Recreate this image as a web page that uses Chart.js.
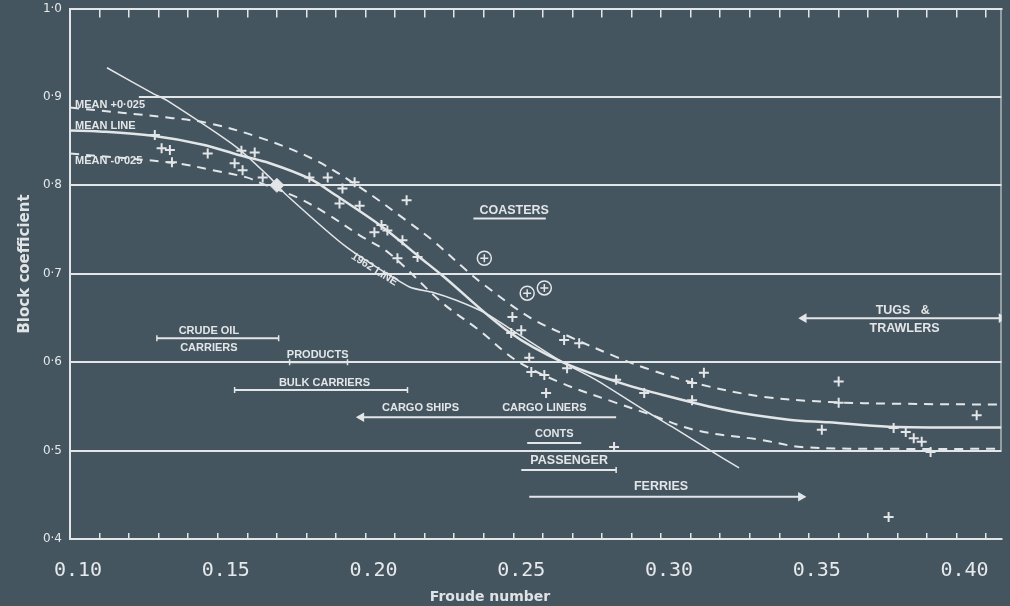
<!DOCTYPE html>
<html><head><meta charset="utf-8">
<script src="https://cdn.jsdelivr.net/npm/chart.js@4"></script>
<style>html,body{margin:0;padding:0;background:#45555f;}canvas{display:block;}</style>
</head><body>
<canvas id="c" width="1010" height="606"></canvas>
<script>
// ---------- data ----------
const xTickLabels = ['0.10','0.15','0.20','0.25','0.30','0.35','0.40'];
const yTickLabels = ['0·4','0·5','0·6','0·7','0·8','0·9','1·0'];

const meanLine = [[0.100,0.862],[0.110,0.861],[0.128,0.856],[0.145,0.846],[0.1574,0.834],[0.1676,0.825],[0.1811,0.8075],[0.1889,0.791],[0.2057,0.753],[0.2182,0.719],[0.226,0.698],[0.2486,0.634],[0.2666,0.600],[0.2848,0.578],[0.296,0.567],[0.323,0.545],[0.3432,0.535],[0.3568,0.532],[0.377,0.527],[0.4152,0.526]];
const meanPlus = [[0.100,0.888],[0.1348,0.876],[0.1473,0.870],[0.1642,0.854],[0.1821,0.830],[0.198,0.798],[0.2139,0.760],[0.2226,0.738],[0.2341,0.704],[0.2395,0.689],[0.2554,0.651],[0.2689,0.629],[0.2848,0.606],[0.2959,0.592],[0.3118,0.576],[0.3341,0.561],[0.3568,0.555],[0.38,0.553],[0.4152,0.552]];
const meanMinus = [[0.100,0.836],[0.1361,0.825],[0.1483,0.817],[0.1598,0.809],[0.1642,0.803],[0.1777,0.785],[0.1878,0.766],[0.198,0.7435],[0.2081,0.723],[0.226,0.667],[0.2385,0.636],[0.251,0.602],[0.2666,0.576],[0.2848,0.554],[0.2949,0.5425],[0.3118,0.523],[0.3341,0.512],[0.3476,0.504],[0.38,0.502],[0.4152,0.502]];
const line1962 = [[0.1125,0.933],[0.128,0.904],[0.1328,0.896],[0.1564,0.843],[0.1676,0.809],[0.1726,0.791],[0.1936,0.730],[0.2149,0.685],[0.2226,0.679],[0.2307,0.670],[0.2409,0.655],[0.2497,0.636],[0.2666,0.600],[0.278,0.580],[0.2959,0.5425],[0.3037,0.527],[0.3162,0.501],[0.3264,0.4805]];

const shipPoints = [[0.1287,0.857],[0.131,0.842],[0.1338,0.840],[0.1345,0.826],[0.1466,0.836],[0.158,0.839],[0.1625,0.837],[0.1557,0.825],[0.1584,0.817],[0.1652,0.809],[0.181,0.809],[0.1872,0.809],[0.1963,0.8035],[0.1922,0.7965],[0.1912,0.7795],[0.198,0.777],[0.2139,0.783],[0.2054,0.755],[0.2074,0.749],[0.203,0.747],[0.2125,0.738],[0.2176,0.719],[0.2108,0.7175],[0.2497,0.651],[0.2493,0.633],[0.2527,0.636],[0.2672,0.625],[0.2723,0.6215],[0.2554,0.605],[0.2561,0.589],[0.2605,0.5855],[0.2682,0.593],[0.2611,0.565],[0.2848,0.580],[0.3145,0.588],[0.3105,0.5765],[0.3105,0.557],[0.2943,0.565],[0.2841,0.504],[0.3544,0.5235],[0.3601,0.578],[0.3601,0.554],[0.3787,0.5256],[0.3828,0.521],[0.3855,0.514],[0.3882,0.510],[0.3912,0.4985],[0.4068,0.540],[0.377,0.425]];
const coasterPoints = [[0.2402,0.7175],[0.2547,0.678],[0.2605,0.684]];
const blobPoint = [[0.170,0.800]];

// range bars: [start, end, level]
const rangeBars = [[0.1294,0.1706,0.627],[0.1743,0.1939,0.600],[0.1557,0.2142,0.5685],[0.1986,0.2848,0.5377],[0.2547,0.2730,0.5087],[0.2527,0.2848,0.478],[0.2554,0.3473,0.4477],[0.3483,0.4152,0.6498],[0.2365,0.2610,0.7626]];
const rangeEnds = [['cap','cap'],['cap','cap'],['cap','cap'],['left','none'],['none','none'],['none','cap'],['none','right'],['left','right'],['none','none']];

const noteTexts = ['MEAN +0·025','MEAN LINE','MEAN -0·025','COASTERS','CRUDE OIL','CARRIERS','PRODUCTS','BULK CARRIERS','CARGO SHIPS','CARGO LINERS','CONTS','PASSENGER','FERRIES','TUGS   &','TRAWLERS','1962 LINE'];
const notePos = [[0.1017,0.891],[0.1017,0.8675],[0.1017,0.827],[0.2503,0.7717],[0.1470,0.635],[0.1470,0.616],[0.1838,0.608],[0.1861,0.5765],[0.2186,0.548],[0.2605,0.548],[0.2639,0.519],[0.2689,0.4884],[0.3000,0.459],[0.3818,0.6584],[0.3824,0.6385],[0.2030,0.7049]];

const X_MIN = 0.10, X_MAX = 0.4152, Y_MIN = 0.4, Y_MAX = 1.0;

// ---------- styling ----------
const INK = '#e3e6e8';

const datasets = [];
// partial 0.9 grid line and right frame
datasets.push({data:[{x:0.1233,y:0.9},{x:X_MAX,y:0.9}], showLine:true, borderColor:INK, borderWidth:2, pointRadius:0});
datasets.push({data:[{x:X_MAX,y:0.5},{x:X_MAX,y:Y_MAX}], showLine:true, borderColor:INK, borderWidth:2, pointRadius:0});

const toXY = a => a.map(p => ({x:p[0], y:p[1]}));
datasets.push({data:toXY(meanLine), showLine:true, borderColor:INK, borderWidth:2.5, pointRadius:0, tension:0.35});
datasets.push({data:toXY(meanPlus), showLine:true, borderColor:INK, borderWidth:2, borderDash:[9,7], pointRadius:0, tension:0.35});
datasets.push({data:toXY(meanMinus), showLine:true, borderColor:INK, borderWidth:2, borderDash:[9,7], pointRadius:0, tension:0.35});
datasets.push({data:toXY(line1962), showLine:true, borderColor:INK, borderWidth:1.5, pointRadius:0, tension:0.2});

rangeBars.forEach((r, i) => {
  const ends = rangeEnds[i];
  const style = e => e === 'cap' ? 'line' : (e === 'none' ? false : 'triangle');
  const rot = e => e === 'cap' ? 90 : (e === 'left' ? 270 : 90);
  datasets.push({
    data:[{x:r[0],y:r[2]},{x:r[1],y:r[2]}], showLine:true, borderColor:INK, borderWidth:2,
    pointStyle: ends.map(style), rotation: ends.map(rot),
    pointRadius: ends.map(e => e === 'none' ? 0 : (e === 'cap' ? 3 : 4)),
    pointBackgroundColor:INK, pointBorderColor:INK, pointBorderWidth:1.5
  });
});

datasets.push({data:toXY(shipPoints), showLine:false, pointStyle:'cross', pointRadius:5, borderColor:INK, pointBorderWidth:2});
datasets.push({data:toXY(coasterPoints), showLine:false, pointStyle:'circle', pointRadius:7, pointBorderColor:INK, pointBackgroundColor:'rgba(0,0,0,0)', pointBorderWidth:1.5});
datasets.push({data:toXY(coasterPoints), showLine:false, pointStyle:'cross', pointRadius:4, pointBorderColor:INK, pointBorderWidth:1.5});
datasets.push({data:toXY(blobPoint), showLine:false, pointStyle:'rectRot', pointRadius:7, pointBorderColor:INK, pointBackgroundColor:INK, pointBorderWidth:1});

const notesPlugin = {
  id:'notes',
  afterDatasetsDraw(chart){
    const {ctx, scales:{x, y}} = chart;
    ctx.save();
    ctx.fillStyle = INK;
    ctx.textBaseline = 'middle';
    noteTexts.forEach((t, i) => {
      const px = x.getPixelForValue(notePos[i][0]);
      const py = y.getPixelForValue(notePos[i][1]);
      ctx.save();
      ctx.translate(px, py);
      ctx.textAlign = t.startsWith('MEAN') ? 'left' : 'center';
      if (t === '1962 LINE') ctx.rotate(0.56);
      const big = ['COASTERS','TUGS   &','TRAWLERS','FERRIES','PASSENGER'].includes(t);
      ctx.font = (big ? 'bold 12.5px' : 'bold 11px') + ' "Liberation Sans Narrow", "Liberation Sans", sans-serif';
      ctx.fillText(t, 0, 0);
      ctx.restore();
    });
    // axis titles
    ctx.fillStyle = '#dfe3e6';
    ctx.font = 'bold 14px "DejaVu Sans", sans-serif';
    ctx.textAlign = 'center';
    ctx.fillText('Froude number', 490, 597);
    ctx.save();
    ctx.translate(25, 264);
    ctx.rotate(-Math.PI/2);
    ctx.font = 'bold 15px "DejaVu Sans", sans-serif';
    ctx.fillText('Block coefficient', 0, 0);
    ctx.restore();
    ctx.restore();
  }
};

const noSidePad = s => { s.paddingLeft = 0; s.paddingRight = 0; };

new Chart(document.getElementById('c'), {
  type:'scatter',
  data:{datasets},
  options:{
    responsive:false, animation:false, events:[],
    layout:{padding:{left:0, right:7, top:0, bottom:0}},
    plugins:{legend:{display:false}, tooltip:{enabled:false}, title:{display:false}},
    scales:{
      x:{
        type:'linear', position:'bottom', min:X_MIN, max:X_MAX,
        afterFit(s){ s.height = 67; noSidePad(s); },
        border:{display:true, color:INK, width:2},
        grid:{drawOnChartArea:false, drawTicks:true, tickLength:-6, color:INK, lineWidth:1.5},
        ticks:{stepSize:0.01, autoSkip:false, includeBounds:false, maxRotation:0, minRotation:0,
          padding:26, labelOffset:8, color:'#e6e9eb',
          font:{family:'"DejaVu Sans Mono", monospace', size:20},
          callback(v){ const k = (v - 0.10)/0.05; const r = Math.round(k); return Math.abs(k - r) < 1e-4 ? xTickLabels[r] : ''; }
        }
      },
      x2:{
        type:'linear', position:'top', min:X_MIN, max:X_MAX,
        afterFit(s){ s.height = 8; noSidePad(s); },
        border:{display:true, color:INK, width:2},
        grid:{drawOnChartArea:false, drawTicks:true, tickLength:-9, color:INK, lineWidth:1.5},
        ticks:{stepSize:0.01, autoSkip:false, includeBounds:false, maxRotation:0, padding:0, callback(){ return ''; }, font:{size:1}}
      },
      y:{
        type:'linear', position:'left', min:Y_MIN, max:Y_MAX,
        afterFit(s){ s.width = 70; s.paddingTop = 0; s.paddingBottom = 0; },
        border:{display:true, color:INK, width:2},
        grid:{drawTicks:false, lineWidth:2,
          color(c){ const v = c.tick ? c.tick.value : 0; return Math.abs(v - 0.9) < 1e-6 ? 'rgba(0,0,0,0)' : INK; }},
        ticks:{stepSize:0.1, padding:8, color:'#e6e9eb', font:{family:'"DejaVu Sans", sans-serif', size:12},
          callback(v){ return yTickLabels[Math.round((v - 0.4)*10)]; }}
      }
    }
  },
  plugins:[notesPlugin]
});
</script>
</body></html>
